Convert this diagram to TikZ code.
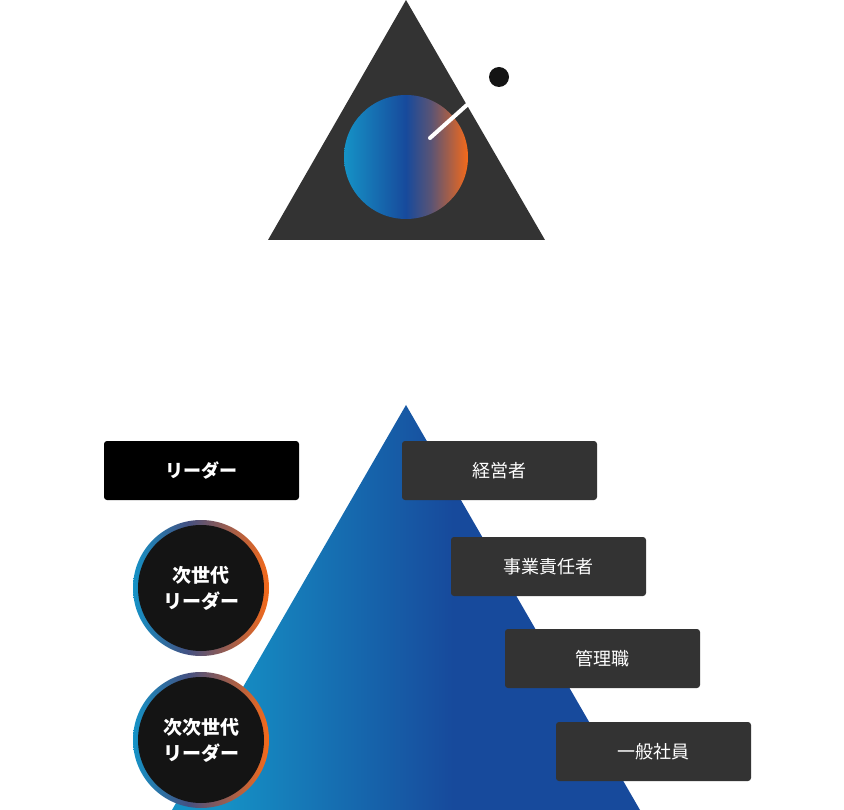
\documentclass[tikz,border=0pt]{standalone}
\usepackage{fontspec}
\newfontfamily\cjk{Noto Sans CJK JP}
\definecolor{cyanA}{HTML}{1592C6}
\definecolor{blueA}{HTML}{174A9C}
\definecolor{orangeA}{HTML}{F56A1A}
\definecolor{darkA}{HTML}{333333}
\pgfdeclarehorizontalshading{globe}{100bp}{color(0bp)=(cyanA); color(25bp)=(cyanA); color(50bp)=(blueA); color(60bp)=(blueA!70!orangeA); color(75bp)=(orangeA); color(100bp)=(orangeA)}
\pgfdeclarehorizontalshading{ring}{100bp}{color(0bp)=(cyanA); color(25bp)=(cyanA); color(45bp)=(blueA!80!orangeA); color(75bp)=(orangeA); color(100bp)=(orangeA)}
\pgfdeclarehorizontalshading{slope}{100bp}{color(0bp)=(cyanA); color(30bp)=(cyanA); color(55bp)=(blueA); color(100bp)=(blueA)}
\tikzset{
  rolebox/.style={fill=darkA, rounded corners=3pt, minimum width=195pt, minimum height=59pt, text=white, font=\cjk\fontsize{18}{22}\selectfont},
  leadbox/.style={rolebox, fill=black, font=\cjk\bfseries\fontsize{18}{22}\selectfont},
  leadtext/.style={text=white, align=center, font=\cjk\bfseries\fontsize{19}{26}\selectfont}
}
\begin{document}
\begin{tikzpicture}[x=1pt,y=-1pt]
    \useasboundingbox (0,0) rectangle (844,810);
    % top emblem
    \fill [darkA] (406,0) -- (545,240) -- (268,240) -- cycle;
    \shade [shading=globe] (406,157) circle (62);
    \coordinate (hand) at (430,138);
    \coordinate (tip) at (468,104);
    \draw [white, line width=4pt, line cap=round] (hand) -- (tip);
    \fill [black!92] (499,77) circle (10);
    % pyramid
    \shade [shading=slope] (406,405) -- (640,810) -- (172,810) -- cycle;
    % roles
    \node [leadbox] (lead) at (201.5,470.5) {リーダー};
    \node [rolebox] (exec) at (499.5,470.5) {経営者};
    \node [rolebox] (biz) at (548.5,566.5) {事業責任者};
    \node [rolebox] (mgr) at (602.5,658.5) {管理職};
    \node [rolebox] (staff) at (653.5,751.5) {一般社員};
    % next leaders
    \foreach \y/\name/\txt in {588/next/次世代\\リーダー, 740/nextnext/次次世代\\リーダー} {
        \shade [shading=ring] (201,\y) circle (68);
        \fill [black!92] (201,\y) circle (63);
        \node [leadtext] (\name) at (201,\y) {\txt};
    }
\end{tikzpicture}
\end{document}
